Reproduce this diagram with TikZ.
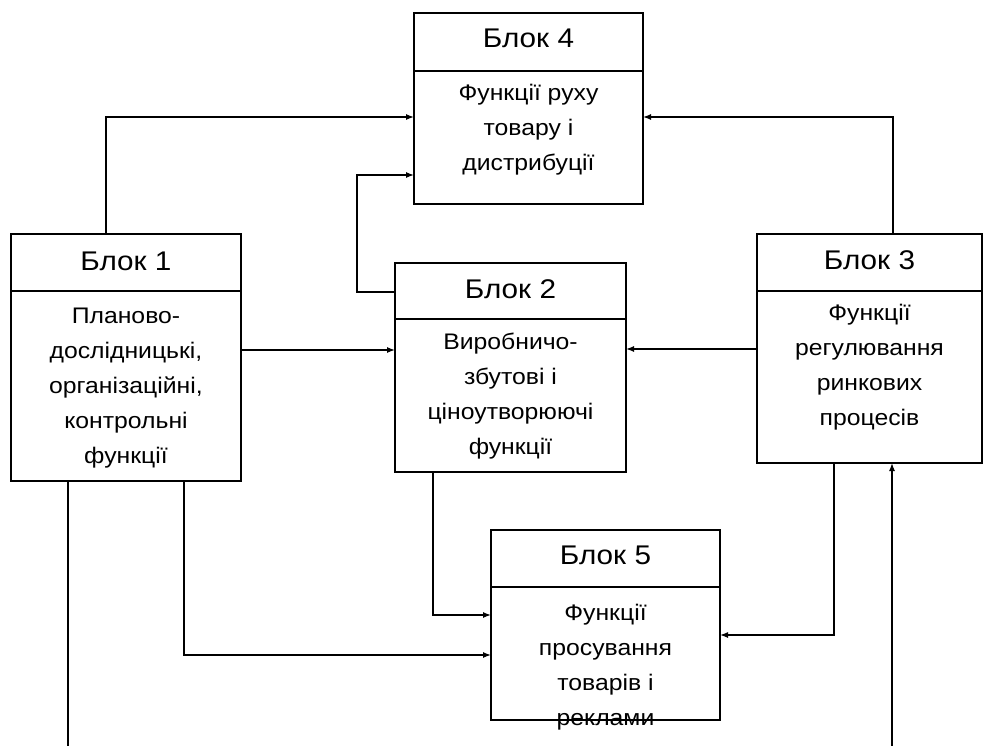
\documentclass[tikz,border=0pt]{standalone}
\usepackage{fontspec}
\setmainfont[FakeStretch=1.1]{Liberation Sans}
\usetikzlibrary{arrows.meta}
\begin{document}
\begin{tikzpicture}[x=1pt,y=-1pt,
  blk/.style={draw,line width=1.4pt,inner sep=0pt,outer sep=0pt,anchor=north west},
  hdr/.style={anchor=base,font=\fontsize{27}{32}\selectfont},
  body/.style={anchor=base,align=center,inner sep=0pt,font=\fontsize{22.5}{35}\selectfont},
  conn/.style={line width=1.3pt},
  arr/.style={line width=1.3pt,-{Latex[length=8pt,width=6pt]}}]
\useasboundingbox (0,0) rectangle (984,746);
% blocks
\node[blk,minimum width=229pt,minimum height=191pt] (b4) at (414,13) {};
\node[blk,minimum width=230pt,minimum height=247pt] (b1) at (11,234) {};
\node[blk,minimum width=231pt,minimum height=209pt] (b2) at (395,263) {};
\node[blk,minimum width=225pt,minimum height=229pt] (b3) at (757,234) {};
\node[blk,minimum width=229pt,minimum height=190pt] (b5) at (491,530) {};
% dividers
\draw[conn] ([yshift=-58pt]b4.north west) -- ([yshift=-58pt]b4.north east);
\draw[conn] ([yshift=-57pt]b1.north west) -- ([yshift=-57pt]b1.north east);
\draw[line width=2pt] ([yshift=-56pt]b2.north west) -- ([yshift=-56pt]b2.north east);
\draw[conn] ([yshift=-57pt]b3.north west) -- ([yshift=-57pt]b3.north east);
\draw[conn] ([yshift=-57pt]b5.north west) -- ([yshift=-57pt]b5.north east);
% headers
\node[hdr] (h4) at (528.5,48) {Блок 4};
\node[hdr] (h1) at (126,270) {Блок 1};
\node[hdr] (h2) at (510.5,298) {Блок 2};
\node[hdr] (h3) at (869.5,269) {Блок 3};
\node[hdr] (h5) at (605.5,564) {Блок 5};
% body texts (anchor = baseline of the last line)
\node[body] (t4) at (528.5,171) {Функції руху\\товару і\\дистрибуції};
\node[body] (t1) at (126,463) {Планово-\\дослідницькі,\\організаційні,\\контрольні\\функції};
\node[body] (t2) at (510.5,454) {Виробничо-\\збутові і\\ціноутворюючі\\функції};
\node[body] (t3) at (869.5,425) {Функції\\регулювання\\ринкових\\процесів};
\node[body] (t5) at (605.5,725) {Функції\\просування\\товарів і\\реклами};
% connectors
\draw[arr] ([xshift=95pt]b1.north west) |- ([yshift=-104pt]b4.north west);
\draw[arr] ([yshift=-29pt]b2.north west) -- ++(-38pt,0) |- ([yshift=-162pt]b4.north west);
\draw[arr] ([xshift=136pt]b3.north west) |- ([yshift=-104pt]b4.north east);
\draw[arr] ([yshift=-116pt]b1.north east) coordinate (p1) -- (p1 -| b2.west);
\draw[arr] ([yshift=-115pt]b3.north west) coordinate (p2) -- (p2 -| b2.east);
\draw[arr] ([xshift=38pt]b2.south west) |- ([yshift=-85pt]b5.north west);
\draw[arr] ([xshift=173pt]b1.south west) |- ([yshift=-125pt]b5.north west);
\draw[arr] ([xshift=77pt]b3.south west) |- ([yshift=-105pt]b5.north east);
\coordinate (e1) at (68,746);
\coordinate (e2) at (892,746);
\draw[conn] ([xshift=57pt]b1.south west) -- (e1);
\draw[arr] (e2) -- (e2 |- b3.south);
\end{tikzpicture}
\end{document}
